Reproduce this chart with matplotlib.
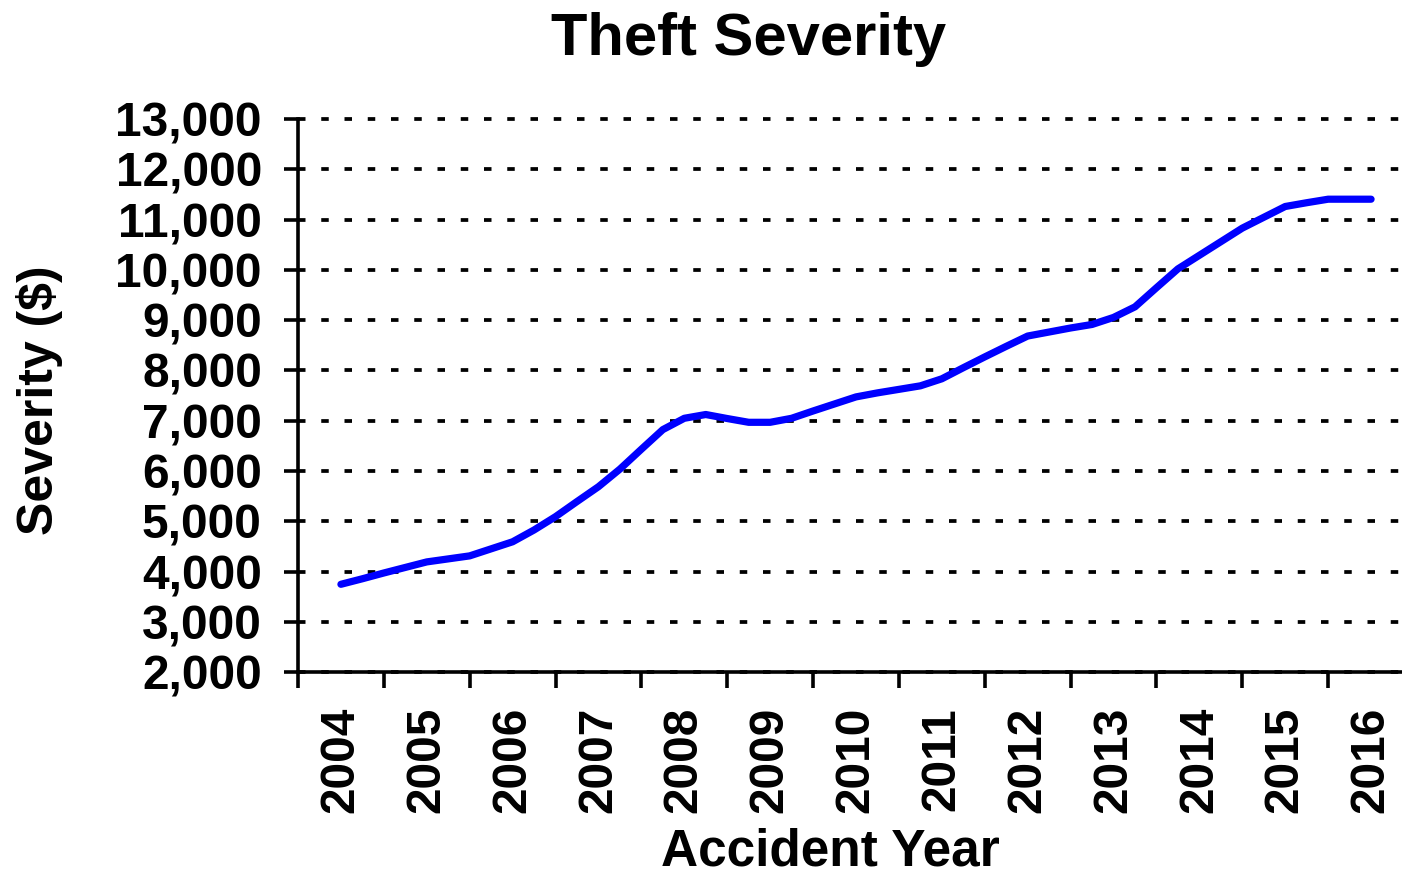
import numpy as np
import matplotlib
matplotlib.use('Agg')
import matplotlib.pyplot as plt

years = ['2004', '2005', '2006', '2007', '2008', '2009', '2010',
         '2011', '2012', '2013', '2014', '2015', '2016']

# Quarterly theft severity, first point at mid 2004, last at mid 2016.
severity = [3750, 3860, 3975, 4085, 4195, 4255, 4315, 4455, 4595, 4830,
            5095, 5395, 5690, 6040, 6435, 6825, 7050, 7125, 7045, 6970,
            6970, 7050, 7195, 7335, 7475, 7555, 7625, 7695, 7835, 8055,
            8270, 8480, 8685, 8765, 8845, 8915, 9055, 9265, 9645, 10020,
            10290, 10560, 10830, 11045, 11260, 11335, 11405, 11405, 11405]

y_ticks = list(range(2000, 13001, 1000))

plt.rcParams['font.family'] = ['Liberation Sans', 'DejaVu Sans']
plt.rcParams['font.weight'] = 'bold'

fig = plt.figure(figsize=(14.02, 8.76), dpi=100)
# The category axis runs on past the right edge of the figure.
ax = fig.add_axes([298 / 1402, 0.2325, 1116 / 1402, 0.6317])

# Each year is one category; quarters sit at quarter steps inside it.
quarters = 0.5 + np.arange(len(severity)) / 4.0
ax.plot(quarters, severity, color='#0000ff', lw=5.2,
        solid_capstyle='round', solid_joinstyle='round')

ax.set_xlim(0, len(years))
ax.set_ylim(y_ticks[0], y_ticks[-1])

# Dotted horizontal grid lines, the top one drawn in full.
ax.yaxis.grid(True, color='black', lw=2.7, linestyle=(0, (2.0, 4.2)))
ax.set_axisbelow(True)

ax.set_yticks(y_ticks)
ax.set_yticklabels(['{:,}'.format(v) for v in y_ticks])
ax.tick_params(axis='y', direction='out', length=10, width=2.6,
               pad=16, labelsize=34.5)
for line in ax.get_ygridlines():
    line.set_clip_on(False)

# Tick marks between years, year labels in the middle of each year.
ax.set_xticks(range(len(years)))
ax.set_xticklabels([])
ax.set_xticks(np.arange(len(years)) + 0.5, minor=True)
ax.set_xticklabels(years, minor=True, rotation=90)
ax.tick_params(axis='x', which='major', direction='out', length=11.5,
               width=2.6)
ax.tick_params(axis='x', which='minor', length=0, pad=25, labelsize=34.5)

for side in ['top', 'right']:
    ax.spines[side].set_visible(False)
for side in ['left', 'bottom']:
    ax.spines[side].set_linewidth(2.6)

fig.text(749 / 1402, 1 - 55 / 876, 'Theft Severity', ha='center',
         va='baseline', fontsize=43, fontweight='bold')
fig.text(830 / 1402, 1 - 866 / 876, 'Accident Year', ha='center',
         va='baseline', fontsize=37, fontweight='bold')
fig.text(40 / 1402, 1 - 400 / 876, 'Severity ($)', ha='center',
         va='center', rotation=90, fontsize=36, fontweight='bold')

fig.savefig('out.png', dpi=100)
